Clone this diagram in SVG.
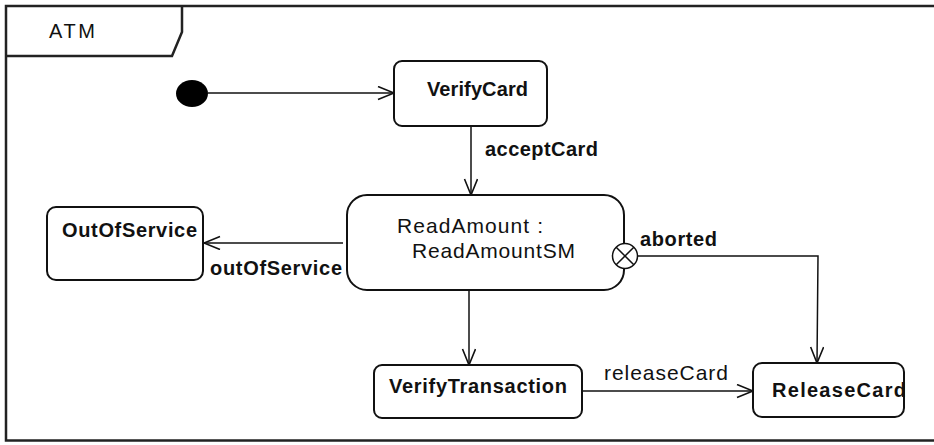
<svg xmlns="http://www.w3.org/2000/svg" width="934" height="445" viewBox="0 0 934 445">
<style>
  .frame{fill:none;stroke:#222;stroke-width:2.5}
  .node{fill:#fff;stroke:#111;stroke-width:2}
  .conn{fill:none;stroke:#111;stroke-width:1.5}
  .b{font-family:"Liberation Sans",Arial,sans-serif;font-size:20px;font-weight:bold;fill:#111}
  .r{font-family:"Liberation Sans",Arial,sans-serif;font-size:21px;fill:#111}
  .t{font-family:"Liberation Sans",Arial,sans-serif;font-size:20px;fill:#111}
</style>
<defs>
  <marker id="arr" markerUnits="userSpaceOnUse" markerWidth="19" markerHeight="15" refX="17" refY="7" orient="auto">
    <path d="M1,0.5 L17,7 L1,13.5" fill="none" stroke="#111" stroke-width="1.6"/>
  </marker>
</defs>
<rect x="0" y="0" width="934" height="445" fill="#fff"/>
<g id="frame">
  <rect class="frame" x="6" y="6" width="940" height="434.5"/>
  <path class="frame" d="M6,56 L172,56 L182,32 L182,6" stroke-width="1.5"/>
  <text class="t" x="49" y="38" textLength="46" lengthAdjust="spacing">ATM</text>
</g>
<g id="connectors">
  <line class="conn" x1="208" y1="93" x2="394" y2="93" marker-end="url(#arr)"/>
  <line class="conn" x1="471" y1="126" x2="471" y2="195" marker-end="url(#arr)"/>
  <line class="conn" x1="343" y1="243" x2="204" y2="243" marker-end="url(#arr)"/>
  <line class="conn" x1="469" y1="290" x2="469" y2="365" marker-end="url(#arr)"/>
  <line class="conn" x1="582" y1="391" x2="753" y2="391" marker-end="url(#arr)"/>
  <polyline class="conn" points="638,256 818,256 817,363" marker-end="url(#arr)"/>
  <text class="b" x="485" y="156" textLength="113" lengthAdjust="spacing">acceptCard</text>
  <text class="b" x="210" y="275" textLength="132" lengthAdjust="spacing">outOfService</text>
  <text class="b" x="640" y="246" textLength="77" lengthAdjust="spacing">aborted</text>
  <text class="r" x="604" y="380" textLength="124" lengthAdjust="spacing">releaseCard</text>
</g>
<g id="initial">
  <ellipse cx="192" cy="93.5" rx="16" ry="13.5" fill="#000"/>
</g>
<g id="VerifyCard">
  <rect class="node" x="394" y="61" width="153" height="65" rx="8"/>
  <text class="b" x="427" y="96" textLength="101" lengthAdjust="spacing">VerifyCard</text>
</g>
<g id="ReadAmount">
  <rect class="node" x="347" y="195" width="277" height="95" rx="20"/>
  <text class="r" x="397" y="233" textLength="146" lengthAdjust="spacing">ReadAmount :</text>
  <text class="r" x="412" y="258" textLength="163" lengthAdjust="spacing">ReadAmountSM</text>
</g>
<g id="exitPoint">
  <circle cx="625" cy="256" r="12.5" fill="#fff" stroke="#111" stroke-width="1.5"/>
  <path d="M616.2,247.2 L633.8,264.8 M633.8,247.2 L616.2,264.8" stroke="#111" stroke-width="1.5"/>
</g>
<g id="OutOfService">
  <rect class="node" x="47" y="207" width="156" height="73" rx="9"/>
  <text class="b" x="62" y="237" textLength="135" lengthAdjust="spacing">OutOfService</text>
</g>
<g id="VerifyTransaction">
  <rect class="node" x="374" y="365" width="208" height="53" rx="8"/>
  <text class="b" x="389" y="393" textLength="178" lengthAdjust="spacing">VerifyTransaction</text>
</g>
<g id="ReleaseCard">
  <rect class="node" x="753" y="363" width="151" height="54" rx="9"/>
  <text class="b" x="772" y="397" textLength="134" lengthAdjust="spacing">ReleaseCard</text>
</g>
</svg>
